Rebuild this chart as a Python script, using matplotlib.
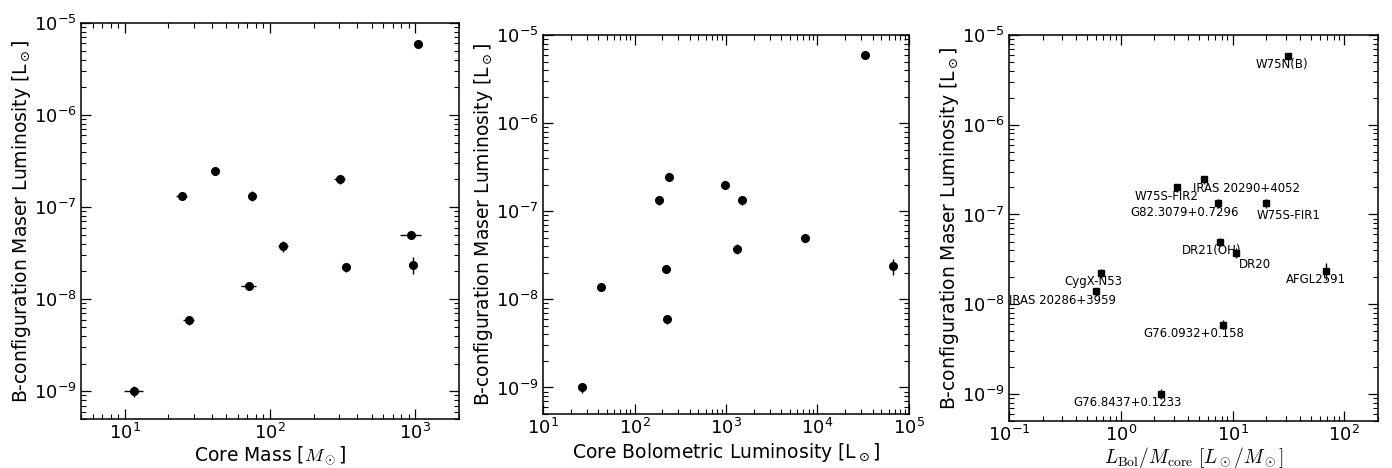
import matplotlib
matplotlib.use("Agg")
import matplotlib.pyplot as plt
import numpy as np

plt.rcParams['font.family'] = ['DejaVu Sans']
plt.rcParams['mathtext.fontset'] = 'dejavusans'
plt.rcParams['axes.unicode_minus'] = False

# ---- data ----
sources = ['G76.8437+0.1233', 'G82.3079+0.7296', 'G76.0932+0.158', 'IRAS 20290+4052',
           'W75S-FIR1', 'IRAS 20286+3959', 'DR20', 'W75S-FIR2', 'CygX-N53',
           'DR21(OH)', 'AFGL2591', 'W75N(B)']
core_mass = np.array([11.6, 24.7, 27.5, 42.1, 74.6, 72.0, 123.6, 303.0, 333.0, 940.0, 959.0, 1043.0])
core_mass_err = np.array([1.7, 2.2, 2.5, 1.7, 4.5, 8.6, 10.0, 27.0, 20.0, 150.0, 50.0, 65.0])
core_lbol = np.array([26.5, 184.0, 228.0, 236.0, 1496.0, 43.0, 1330.0, 966.0, 223.0, 7300.0, 66200.0, 32700.0])
core_lbol_err = np.array([1.5, 10.0, 12.0, 13.0, 80.0, 2.5, 75.0, 55.0, 12.0, 400.0, 3000.0, 1800.0])
maser_lum = np.array([1.0e-9, 1.33e-7, 5.94e-9, 2.46e-7, 1.33e-7, 1.39e-8, 3.74e-8, 2.0e-7,
                      2.23e-8, 4.97e-8, 2.37e-8, 5.88e-6])
maser_lum_err = np.array([1.3e-10, 1.4e-8, 6.5e-10, 2.5e-8, 1.5e-8, 1.4e-9, 5.0e-9, 2.0e-8,
                          2.5e-9, 5.0e-9, 5.0e-9, 4.5e-7])
lbol_per_mass = core_lbol / core_mass

# label offsets (pixels) for the third panel
label_offsets = {
    'W75N(B)': (-6, -9), 'IRAS 20290+4052': (42, -9), 'W75S-FIR2': (-11, -9),
    'G82.3079+0.7296': (-34, -9), 'W75S-FIR1': (22, -12), 'DR21(OH)': (-9, -9),
    'DR20': (19, -12), 'AFGL2591': (-10, -9), 'CygX-N53': (-8, -9),
    'IRAS 20286+3959': (-33, -9), 'G76.0932+0.158': (-30, -9), 'G76.8437+0.1233': (-33, -9),
}

fig = plt.figure(figsize=(13.92, 4.68), dpi=100)
ax1 = fig.add_axes([81 / 1392, 1 - 419 / 468, 378 / 1392, 396 / 468])
ax2 = fig.add_axes([543 / 1392, 1 - 414 / 468, 366 / 1392, 379 / 468])
ax3 = fig.add_axes([1009 / 1392, 1 - 421 / 468, 369 / 1392, 386 / 468])

ylab = r'B-configuration Maser Luminosity [L$_\odot$]'
for ax in (ax1, ax2, ax3):
    ax.set_xscale('log')
    ax.set_yscale('log')
    ax.set_ylim(5e-10, 1e-5)
    ax.tick_params(which='both', direction='in', top=True, right=True, labelsize=13)
    ax.tick_params(which='major', length=7, width=0.9, pad=3)
    ax.tick_params(which='minor', length=3.5, width=0.8)
    for s in ax.spines.values():
        s.set_linewidth(1.1)
    ax.set_ylabel(ylab, fontsize=13.5, labelpad=0.5)

ax1.errorbar(core_mass, maser_lum, xerr=core_mass_err, yerr=maser_lum_err, fmt='o',
             color='black', ms=5.5, elinewidth=1.0, capsize=0)
ax1.set_xlim(5, 2000)
xl = ax1.set_xlabel(r'Core Mass [$M_\odot$]', fontsize=13.5, labelpad=1)
xl.set_math_fontfamily('cm')

ax2.errorbar(core_lbol, maser_lum, xerr=core_lbol_err, yerr=maser_lum_err, fmt='o',
             color='black', ms=5.5, elinewidth=1.0, capsize=0)
ax2.set_xlim(10, 1e5)
ax2.set_xlabel(r'Core Bolometric Luminosity [L$_\odot$]', fontsize=13.5, labelpad=2)

ax3.errorbar(lbol_per_mass, maser_lum, yerr=maser_lum_err, fmt='s',
             color='black', ms=5, elinewidth=1.0, capsize=0)
ax3.set_xlim(0.1, 200)
xl3 = ax3.set_xlabel(r'$L_{\rm Bol}/M_{\rm core}\ [L_\odot/M_\odot]$', fontsize=14, labelpad=0)
xl3.set_math_fontfamily('cm')
for name, x, y in zip(sources, lbol_per_mass, maser_lum):
    dx, dy = label_offsets[name]
    ax3.annotate(name, (x, y), xytext=(dx, dy), textcoords='offset pixels',
                 ha='center', va='center', fontsize=8.5)

fig.savefig('out.png', dpi=100)
